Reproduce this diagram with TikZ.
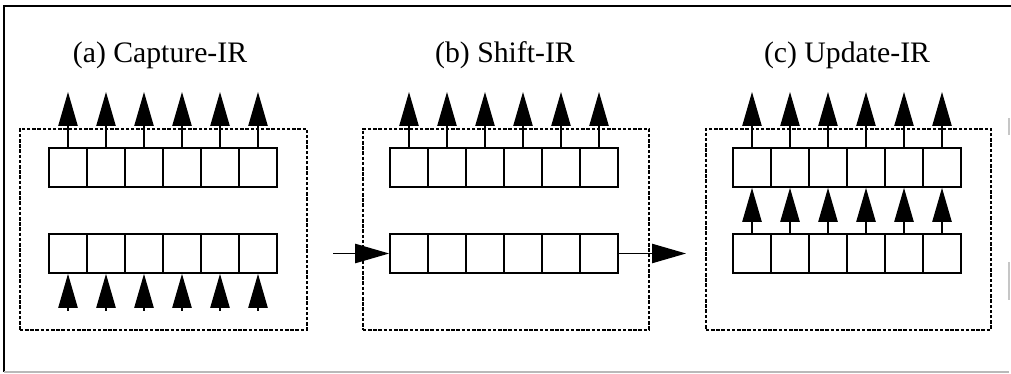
\documentclass[tikz,border=0pt]{standalone}
\usepackage{fontspec}
\setmainfont{Liberation Serif}
\usetikzlibrary{arrows.meta,calc}
\tikzset{
  cell/.style={draw, line width=1.3pt, minimum width=28.5pt, minimum height=29.25pt, inner sep=0pt, fill=white},
  panelbox/.style={draw, line width=1.3pt, dash pattern=on 2.6pt off 1.3pt},
  bigarrow/.style={line width=1pt, -{Triangle[length=25.5pt,width=14.5pt]}},
  title/.style={font=\fontsize{22.3}{25}\selectfont, anchor=base, inner sep=0pt},
  frameline/.style={line width=1.3pt}
}
\begin{document}
\begin{tikzpicture}[x=0.75pt,y=-0.75pt]
\useasboundingbox (0,0) rectangle (1011,374);
% outer frame
\coordinate (fTL) at (4,6);
\coordinate (fTR) at (1011,6);
\coordinate (fBL) at (4,372);
\coordinate (fBR) at (1009,372);
\draw[frameline] (fTR) -- (fTL) -- (fBL);
\draw[frameline, gray!55] (fBL) -- (fBR);
\coordinate (r1a) at (1009,118); \coordinate (r1b) at (1009,135);
\coordinate (r2a) at (1009,262); \coordinate (r2b) at (1009,300);
\draw[line width=0.8pt, gray!45] (r1a) -- (r1b);
\draw[line width=0.8pt, gray!45] (r2a) -- (r2b);

% titles
\node[title] (ta) at (160,63) {(a) Capture-IR};
\node[title] (tb) at (505,63) {(b) Shift-IR};
\node[title] (tc) at (847,63) {(c) Update-IR};

% dashed panel boxes
\node[panelbox, inner sep=0pt, minimum width=215.25pt, minimum height=150.75pt, anchor=north west] (pa) at (19,128) {};
\node[panelbox, inner sep=0pt, minimum width=214.5pt, minimum height=150.75pt, anchor=north west] (pb) at (362,128) {};
\node[panelbox, inner sep=0pt, minimum width=213.75pt, minimum height=150.75pt, anchor=north west] (pc) at (705,128) {};

% registers
\foreach \p/\sx in {a/49, b/390, c/733} {
  \foreach \i in {1,...,6} {
    \node[cell] (\p u\i) at ({\sx+38*\i-19},167.5) {};
    \node[cell] (\p l\i) at ({\sx+38*\i-19},253.5) {};
    \coordinate (\p top\i) at ({\sx+38*\i-19},92);
    \draw[bigarrow] (\p u\i.north) -- (\p top\i);
  }
}
% (a) capture inputs
\foreach \i in {1,...,6} {
  \coordinate (abot\i) at ($(al\i.south)+(0,37)$);
}
\foreach \i in {1,...,6} {
  \draw[bigarrow] (abot\i) -- (al\i.south);
}
% (b) shift in / out
\coordinate (bin) at (333,253.5);
\coordinate (bout) at (686,253.5);
\draw[bigarrow] (bin) -- (bl1.west);
\draw[bigarrow] (bl6.east) -- (bout);
% (c) update
\foreach \i in {1,...,6} {
  \draw[bigarrow] (cl\i.north) -- (cu\i.south);
}
\end{tikzpicture}
\end{document}
